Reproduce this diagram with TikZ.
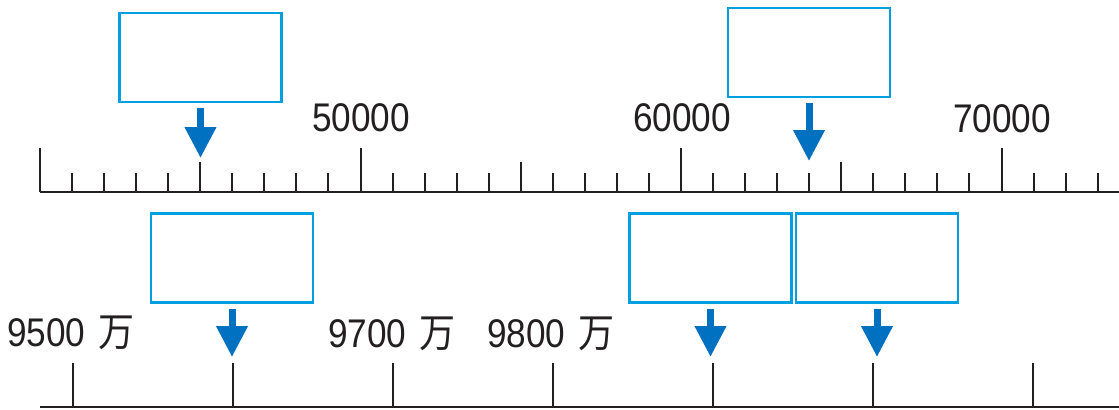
\documentclass[tikz,border=0pt]{standalone}
\usepackage{fontspec}
\setmainfont[FakeStretch=0.88]{Liberation Sans}
\newfontfamily\cjk[FakeStretch=0.9]{Noto Sans CJK SC}
\usepackage{xcolor}
\usetikzlibrary{
	arrows.meta,
	positioning,
	calc
}
\definecolor{boxblue}{HTML}{00A0E0}
\definecolor{arrowblue}{HTML}{0070C0}
\definecolor{axisgray}{HTML}{231F20}
\tikzstyle{blank} = [draw=boxblue, line width=1.3pt, fill=white, minimum width=81pt, minimum height=44.5pt, inner sep=0pt]
\tikzstyle{pointer} = [line width=3.5pt, draw=arrowblue, -{Triangle[width=15pt, length=15.5pt, fill=arrowblue]}]
\tikzstyle{tick} = [line width=1pt, draw=axisgray]
\tikzstyle{num} = [text=axisgray, font=\fontsize{20}{24}\selectfont, inner sep=0pt]

\begin{document}
\begin{tikzpicture}[x=0.5pt, y=-0.5pt]
		
		\useasboundingbox (0,0) rectangle (1119,409);
		
		% ====== Axe du haut ======
		\draw[tick] (40,192) -- (1119,192);
		\foreach \i in {0,...,33} {
			\pgfmathsetmacro{\xx}{40+\i*32.05}
			\ifnum\i=0 \def\hh{148}\else
			\ifnum\i=10 \def\hh{148}\else
			\ifnum\i=20 \def\hh{148}\else
			\ifnum\i=30 \def\hh{148}\else
			\ifnum\i=5 \def\hh{162}\else
			\ifnum\i=15 \def\hh{162}\else
			\ifnum\i=25 \def\hh{162}\else
			\def\hh{173}\fi\fi\fi\fi\fi\fi\fi
			\draw[tick] (\xx,192) -- (\xx,\hh);
		}
		
		\node[num] (lbl50k) at (361,118) {50000};
		\node[num] (lbl60k) at (682,118) {60000};
		\node[num] (lbl70k) at (1002,119) {70000};
		
		% ====== Cases du haut ======
		\node[blank] (box45k) at (200.5,57.5) {};
		\node[blank] (box64k) at (809,52.5) {};
		
		\coordinate (tip45k) at (box45k.south |- 0,158);
		\coordinate (tip64k) at (box64k.south |- 0,161);
		\draw[pointer] ([yshift=-2.5pt]box45k.south) -- (tip45k);
		\draw[pointer] ([yshift=-2.5pt]box64k.south) -- (tip64k);
		
		% ====== Axe du bas ======
		\draw[tick] (40,407) -- (1119,407);
		\foreach \k in {0,...,6} {
			\draw[tick] (73+\k*160.05,407) -- (73+\k*160.05,363);
		}
		
		\node[num] (lbl9500) at (71,333) {9500\,\,{\cjk 万}};
		\node[num] (lbl9700) at (392,334) {9700\,\,{\cjk 万}};
		\node[num] (lbl9800) at (551,334) {9800\,\,{\cjk 万}};
		
		% ====== Cases du bas ======
		\node[blank] (box9600) at (232,258) {};
		\node[blank] (box9900) at (710.5,258) {};
		\node[blank] (box10000) at (877,258) {};
		
		\coordinate (tip9600) at (box9600.south |- 0,357);
		\coordinate (tip9900) at (box9900.south |- 0,357);
		\coordinate (tip10000) at (box10000.south |- 0,357);
		\draw[pointer] ([yshift=-2.5pt]box9600.south) -- (tip9600);
		\draw[pointer] ([yshift=-2.5pt]box9900.south) -- (tip9900);
		\draw[pointer] ([yshift=-2.5pt]box10000.south) -- (tip10000);
		
	\end{tikzpicture}
\end{document}
